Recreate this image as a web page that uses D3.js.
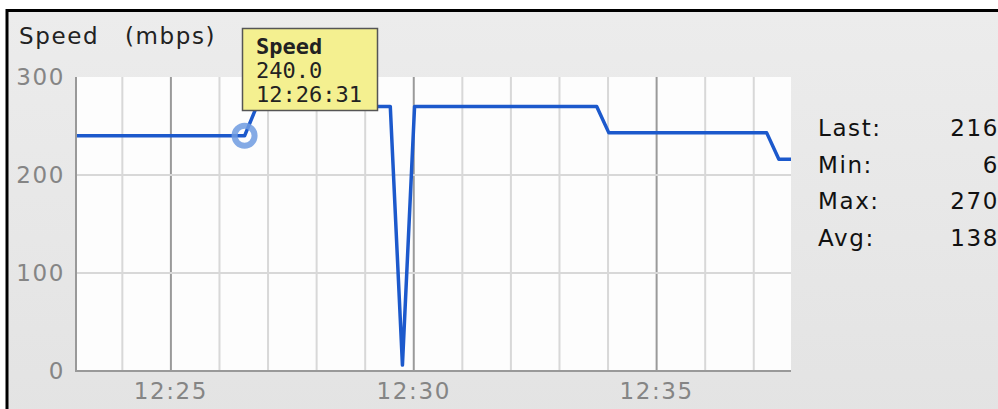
<!DOCTYPE html>
<html>
<head>
<meta charset="utf-8">
<script src="https://cdn.jsdelivr.net/npm/d3@7"></script>
<style>
  body { margin: 0; background: #ffffff; }
  .lbl { font-family: "DejaVu Sans", sans-serif; font-size: 23px; letter-spacing: 1.6px; }
  .tip { font-family: "DejaVu Sans Mono", monospace; font-size: 22px; fill: #222; }
</style>
</head>
<body>
<div id="vis"></div>
<script>
// data (samples every 15 s, only the corners kept)
const TIMES = ["12:23:01", "12:26:31", "12:26:46", "12:29:31", "12:29:46", "12:30:01",
               "12:33:46", "12:34:01", "12:37:16", "12:37:31", "12:37:46"];
const SPEEDS = [240, 240, 270, 270, 6, 270, 270, 243, 243, 216, 216];
const Y_TICKS = [0, 100, 200, 300];
const STAT_NAMES = ["Last:", "Min:", "Max:", "Avg:"];
const STAT_VALUES = [216, 6, 270, 138];
const TIP_LINES = ["Speed", "240.0", "12:26:31"];
const TIP_TIME = "12:26:31";
const TIP_VALUE = 240;

const FRAME_WIDTH = 998;
const FRAME_HEIGHT = 409;
const PLOT = {left: 77, right: 791, top: 77, bottom: 371};

const parseTime = d3.timeParse("%H:%M:%S");
const data = TIMES.map((t, i) => { return {t: parseTime(t), v: SPEEDS[i]}; });

const FRAME = d3.select("#vis")
                .append("svg")
                  .attr("width", FRAME_WIDTH)
                  .attr("height", FRAME_HEIGHT);

const defs = FRAME.append("defs");
const grad = defs.append("linearGradient")
                 .attr("id", "bg").attr("x1", 0).attr("y1", 0).attr("x2", 0).attr("y2", 1);
grad.append("stop").attr("offset", "0%").attr("stop-color", "#ececec");
grad.append("stop").attr("offset", "100%").attr("stop-color", "#e3e3e3");

defs.append("clipPath").attr("id", "clip")
    .append("rect")
      .attr("x", PLOT.left).attr("y", PLOT.top - 10)
      .attr("width", PLOT.right - PLOT.left).attr("height", PLOT.bottom - PLOT.top + 10);

// panel + black frame (only top and left are visible)
FRAME.append("rect")
     .attr("x", 8).attr("y", 11)
     .attr("width", FRAME_WIDTH).attr("height", FRAME_HEIGHT)
     .attr("fill", "url(#bg)");
FRAME.append("path")
     .attr("d", "M7," + FRAME_HEIGHT + "V10.5H" + FRAME_WIDTH)
     .attr("fill", "none")
     .attr("stroke", "#000")
     .attr("stroke-width", 3);

// scales
const X_SCALE = d3.scaleTime()
                  .domain([parseTime("12:23:04"), parseTime("12:37:46")])
                  .range([PLOT.left, PLOT.right]);
const Y_SCALE = d3.scaleLinear()
                  .domain([0, 300])
                  .range([PLOT.bottom, PLOT.top]);

// plot background
FRAME.append("rect")
     .attr("x", PLOT.left).attr("y", PLOT.top)
     .attr("width", PLOT.right - PLOT.left).attr("height", PLOT.bottom - PLOT.top)
     .attr("fill", "#fdfdfd");

// minute gridlines, darker every 5 minutes
const minutes = X_SCALE.ticks(d3.timeMinute.every(1));
FRAME.selectAll(".vgrid")
     .data(minutes)
     .enter()
     .append("line")
       .attr("x1", (d) => { return X_SCALE(d); })
       .attr("x2", (d) => { return X_SCALE(d); })
       .attr("y1", PLOT.top)
       .attr("y2", PLOT.bottom)
       .attr("stroke", (d) => { return d.getMinutes() % 5 == 0 ? "#9a9a9a" : "#d8d8d8"; })
       .attr("stroke-width", 2);

FRAME.selectAll(".hgrid")
     .data(Y_TICKS.filter((d) => { return d > 0 && d < 300; }))
     .enter()
     .append("line")
       .attr("x1", PLOT.left)
       .attr("x2", PLOT.right)
       .attr("y1", (d) => { return Y_SCALE(d); })
       .attr("y2", (d) => { return Y_SCALE(d); })
       .attr("stroke", "#d8d8d8")
       .attr("stroke-width", 2);

// axes lines
FRAME.append("path")
     .attr("d", "M" + (PLOT.left - 1) + "," + PLOT.top + "V" + PLOT.bottom + "H" + PLOT.right)
     .attr("fill", "none")
     .attr("stroke", "#999")
     .attr("stroke-width", 2);

// y labels
FRAME.selectAll(".ylab")
     .data(Y_TICKS)
     .enter()
     .append("text")
       .attr("class", "lbl")
       .attr("x", 65)
       .attr("y", (d) => { return Y_SCALE(d) + 8; })
       .attr("text-anchor", "end")
       .attr("fill", "#858585")
       .text((d) => { return d; });

// x labels
FRAME.selectAll(".xlab")
     .data(X_SCALE.ticks(d3.timeMinute.every(5)))
     .enter()
     .append("text")
       .attr("class", "lbl")
       .attr("x", (d) => { return X_SCALE(d); })
       .attr("y", 399)
       .attr("text-anchor", "middle")
       .attr("fill", "#858585")
       .text(d3.timeFormat("%H:%M"));

// the speed line
const line = d3.line()
               .x((d) => { return X_SCALE(d.t); })
               .y((d) => { return Y_SCALE(d.v); });

FRAME.append("path")
     .datum(data)
     .attr("clip-path", "url(#clip)")
     .attr("d", line)
     .attr("fill", "none")
     .attr("stroke", "#1c59cc")
     .attr("stroke-width", 3.5)
     .attr("stroke-linejoin", "round");

// hover marker
FRAME.append("circle")
     .attr("cx", X_SCALE(parseTime(TIP_TIME)))
     .attr("cy", Y_SCALE(TIP_VALUE))
     .attr("r", 10)
     .attr("fill", "none")
     .attr("stroke", "#6f9be0")
     .attr("stroke-opacity", 0.85)
     .attr("stroke-width", 6);

// title
const title = FRAME.append("text")
                   .attr("class", "lbl")
                   .attr("y", 44)
                   .attr("fill", "#222");
title.append("tspan").attr("x", 19).text("Speed");
title.append("tspan").attr("x", 125).text("(mbps)");

// tooltip
FRAME.append("rect")
     .attr("x", 242.5).attr("y", 28.5)
     .attr("width", 135).attr("height", 82)
     .attr("fill", "#f4f090")
     .attr("stroke", "#555")
     .attr("stroke-width", 1.5);

FRAME.selectAll(".tipline")
     .data(TIP_LINES)
     .enter()
     .append("text")
       .attr("class", "tip")
       .attr("x", 256)
       .attr("y", (d, i) => { return 54 + i * 24; })
       .attr("font-weight", (d, i) => { return i == 0 ? "bold" : "normal"; })
       .text((d) => { return d; });

// stats on the right
FRAME.selectAll(".sname")
     .data(STAT_NAMES)
     .enter()
     .append("text")
       .attr("class", "lbl")
       .attr("x", 818)
       .attr("y", (d, i) => { return 136 + i * 36.5; })
       .attr("fill", "#111")
       .text((d) => { return d; });

FRAME.selectAll(".sval")
     .data(STAT_VALUES)
     .enter()
     .append("text")
       .attr("class", "lbl")
       .attr("x", 999)
       .attr("y", (d, i) => { return 136 + i * 36.5; })
       .attr("text-anchor", "end")
       .attr("fill", "#111")
       .text((d) => { return d; });
</script>
</body>
</html>
